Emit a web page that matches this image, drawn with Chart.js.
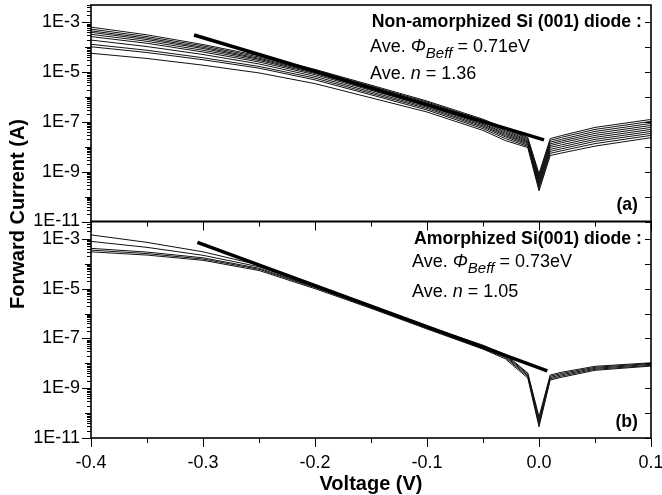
<!DOCTYPE html>
<html>
<head>
<meta charset="utf-8">
<title>Forward I-V of Si (001) diodes</title>
<script src="https://cdn.jsdelivr.net/npm/chart.js"></script>
<style>
    body { margin: 0; background: #fff; }
    #wrap { position: relative; width: 662px; height: 495px; font-family: "Liberation Sans", Arial, sans-serif; color: #000; }
    #wrap canvas { position: absolute; left: 0; top: 0; }
    .note { position: absolute; white-space: nowrap; font-size: 18px; line-height: 18px; }
    .bold { font-weight: bold; font-size: 17.7px; }
    .sub { position: relative; top: 6px; font-size: 15px; font-style: italic; }
    .title { position: absolute; white-space: nowrap; font-weight: bold; font-size: 20px; line-height: 20px; transform: translate(-50%, -50%); }
</style>
<script>
    // voltage points of every measured curve (V)
    var voltage = [-0.4, -0.35, -0.3, -0.25, -0.2, -0.15, -0.1, -0.05, -0.03, -0.01, 0, 0.01, 0.02, 0.05, 0.1];

    // (a) non-amorphized Si (001) diodes, forward current (A)
    var nonAmorphized = [
        [6.46e-4, 3.16e-4, 1.29e-4, 4.57e-5, 1.29e-5, 3.02e-6, 6.92e-7, 1.29e-7, 5.50e-8, 2.34e-8, 8.32e-10, 2.14e-8, 2.82e-8, 6.03e-8, 1.26e-7],
        [5.37e-4, 2.69e-4, 1.14e-4, 4.07e-5, 1.17e-5, 2.75e-6, 6.31e-7, 1.17e-7, 5.01e-8, 2.14e-8, 7.08e-10, 1.82e-8, 2.40e-8, 5.01e-8, 1.05e-7],
        [4.57e-4, 2.34e-4, 1.00e-4, 3.63e-5, 1.07e-5, 2.51e-6, 5.75e-7, 1.07e-7, 4.47e-8, 1.91e-8, 6.03e-10, 1.55e-8, 2.00e-8, 4.17e-8, 8.71e-8],
        [3.98e-4, 2.04e-4, 8.91e-5, 3.31e-5, 9.77e-6, 2.29e-6, 5.25e-7, 9.55e-8, 3.98e-8, 1.74e-8, 5.01e-10, 1.32e-8, 1.70e-8, 3.47e-8, 7.24e-8],
        [3.31e-4, 1.74e-4, 7.59e-5, 2.95e-5, 8.91e-6, 2.04e-6, 4.79e-7, 8.51e-8, 3.55e-8, 1.58e-8, 4.17e-10, 1.12e-8, 1.45e-8, 2.88e-8, 6.03e-8],
        [2.69e-4, 1.45e-4, 6.46e-5, 2.57e-5, 7.94e-6, 1.86e-6, 4.37e-7, 7.76e-8, 3.16e-8, 1.45e-8, 3.55e-10, 9.55e-9, 1.20e-8, 2.40e-8, 5.01e-8],
        [1.95e-4, 1.07e-4, 5.13e-5, 2.14e-5, 6.76e-6, 1.62e-6, 3.89e-7, 6.92e-8, 2.82e-8, 1.32e-8, 3.02e-10, 7.94e-9, 1.00e-8, 2.00e-8, 4.17e-8],
        [1.32e-4, 7.59e-5, 3.80e-5, 1.70e-5, 5.75e-6, 1.41e-6, 3.47e-7, 6.17e-8, 2.51e-8, 1.17e-8, 2.51e-10, 6.61e-9, 8.32e-9, 1.66e-8, 3.47e-8],
        [1.05e-4, 6.17e-5, 3.16e-5, 1.45e-5, 4.90e-6, 1.23e-6, 3.02e-7, 5.37e-8, 2.14e-8, 1.05e-8, 2.09e-10, 5.50e-9, 6.92e-9, 1.35e-8, 2.88e-8],
        [5.75e-5, 3.55e-5, 1.91e-5, 9.33e-6, 3.47e-6, 9.33e-7, 2.51e-7, 4.57e-8, 1.78e-8, 9.33e-9, 1.70e-10, 4.47e-9, 5.62e-9, 1.07e-8, 2.34e-8]
    ];

    // (b) amorphized Si(001) diodes, forward current (A)
    var amorphized = [
        [1.45e-3, 7.24e-4, 3.02e-4, 8.91e-5, 1.32e-5, 2.09e-6, 3.16e-7, 5.37e-8, 2.29e-8, 4.07e-9, 7.08e-11, 3.39e-9, 4.37e-9, 7.59e-9, 1.05e-8],
        [7.94e-4, 4.57e-4, 2.19e-4, 7.59e-5, 1.26e-5, 1.95e-6, 2.95e-7, 4.90e-8, 2.09e-8, 3.72e-9, 5.62e-11, 3.02e-9, 3.89e-9, 6.92e-9, 9.77e-9],
        [4.17e-4, 2.95e-4, 1.74e-4, 6.61e-5, 1.17e-5, 1.82e-6, 2.75e-7, 4.47e-8, 1.91e-8, 3.31e-9, 4.47e-11, 2.69e-9, 3.47e-9, 6.31e-9, 9.12e-9],
        [3.55e-4, 2.57e-4, 1.55e-4, 6.03e-5, 1.10e-5, 1.74e-6, 2.57e-7, 4.07e-8, 1.70e-8, 2.95e-9, 3.55e-11, 2.40e-9, 3.09e-9, 5.75e-9, 8.32e-9],
        [3.02e-4, 2.24e-4, 1.38e-4, 5.37e-5, 1.00e-5, 1.62e-6, 2.40e-7, 3.72e-8, 1.51e-8, 2.57e-9, 2.82e-11, 2.14e-9, 2.75e-9, 5.25e-9, 7.76e-9]
    ];

    // straight fits used for barrier height / ideality
    var fitVoltageA = [-0.308, 0.0045];
    var fitCurrentA = [3.13e-4, 1.91e-8];
    var fitVoltageB = [-0.305, 0.0074];
    var fitCurrentB = [7.24e-4, 5.01e-9];

    // tick labels
    var xTickValues = [-0.4, -0.3, -0.2, -0.1, 0, 0.1];
    var xTickLabels = ['-0.4', '-0.3', '-0.2', '-0.1', '0.0', '0.1'];
    var yTickValues = [1e-11, 1e-9, 1e-7, 1e-5, 1e-3];
    var yTickLabels = ['1E-11', '1E-9', '1E-7', '1E-5', '1E-3'];
    var yMin = 1e-11, yMax = 5e-3;

    function curveSets(rows, axis) {
        return rows.map(function (r) {
            return {
                data: voltage.map(function (v, i) { return {x: v, y: r[i]}; }),
                yAxisID: axis, borderColor: '#111', borderWidth: 1,
                pointRadius: 0, tension: 0, order: 1
            };
        });
    }

    function fitSet(vs, cs, axis) {
        return {
            data: vs.map(function (v, i) { return {x: v, y: cs[i]}; }),
            yAxisID: axis, borderColor: '#000', borderWidth: 3.5,
            pointRadius: 0, tension: 0, order: 0
        };
    }

    // panel frames and all the tick marks
    var frame = {
        id: 'frame',
        afterDatasetsDraw: function (chart) {
            var ctx = chart.ctx, x = chart.scales.x;
            var left = chart.chartArea.left, right = chart.chartArea.right;
            ctx.save();
            ctx.strokeStyle = '#000';
            ['yTop', 'yBot'].forEach(function (id) {
                var s = chart.scales[id];
                ctx.lineWidth = 1;
                ctx.beginPath();
                for (var e = -11; e <= -3; e++) {
                    for (var m = 1; m <= 9; m++) {
                        var v = m * Math.pow(10, e);
                        if (v < s.min * 0.999 || v > s.max * 1.001) continue;
                        var py = Math.round(s.getPixelForValue(v)) + 0.5;
                        var len = m > 1 ? 4 : (e % 2 ? 9 : 6);
                        ctx.moveTo(left - len, py); ctx.lineTo(left, py);
                        if (m === 1) { ctx.moveTo(right, py); ctx.lineTo(right - 6, py); }
                    }
                }
                for (var k = 0; k <= 10; k++) {
                    var px = Math.round(x.getPixelForValue(-0.4 + k * 0.05)) + 0.5;
                    ctx.moveTo(px, s.bottom); ctx.lineTo(px, s.bottom + (k % 2 ? 5 : 9));
                }
                ctx.stroke();
                ctx.lineWidth = 1.6;
                ctx.strokeRect(left, s.top, right - left, s.bottom - s.top);
            });
            ctx.restore();
        }
    };

    function yAxis() {
        return {
            type: 'logarithmic', position: 'left', stack: 'panels', stackWeight: 1,
            min: yMin, max: yMax,
            grid: {display: false, drawTicks: true, tickLength: 9},
            border: {display: false},
            afterBuildTicks: function (s) { s.ticks = yTickValues.map(function (v) { return {value: v}; }); },
            afterFit: function (s) { s.width = 91; s.paddingTop = 0; s.paddingBottom = 0; },
            ticks: {
                autoSkip: false, padding: 2, color: '#000',
                font: {family: 'Liberation Sans', size: 18},
                callback: function (v, i) { return yTickLabels[i]; }
            }
        };
    }

    window.onload = function () {
        var ctx = document.getElementById('ivChart').getContext('2d');
        new Chart(ctx, {
            type: 'line',
            data: {
                datasets: curveSets(nonAmorphized, 'yTop')
                    .concat(curveSets(amorphized, 'yBot'))
                    .concat([fitSet(fitVoltageA, fitCurrentA, 'yTop'), fitSet(fitVoltageB, fitCurrentB, 'yBot')])
            },
            options: {
                responsive: false,
                animation: false,
                layout: {padding: {left: 0, top: 5, right: 11, bottom: 0}},
                plugins: {legend: {display: false}, tooltip: {enabled: false}},
                scales: {
                    x: {
                        type: 'linear', min: -0.4, max: 0.1,
                        grid: {display: false, drawTicks: true, tickLength: 9},
                        border: {display: false},
                        afterBuildTicks: function (s) { s.ticks = xTickValues.map(function (v) { return {value: v}; }); },
                        afterFit: function (s) { s.height = 57; s.paddingLeft = 0; s.paddingRight = 0; },
                        ticks: {
                            autoSkip: false, maxRotation: 0, padding: 5, color: '#000',
                            font: {family: 'Liberation Sans', size: 18},
                            callback: function (v, i) { return xTickLabels[i]; }
                        }
                    },
                    // stacked axes are placed bottom-up in listing order
                    yBot: yAxis(),
                    yTop: yAxis()
                }
            },
            plugins: [frame]
        });
    };
</script>
</head>
<body>
<div id="wrap">
    <canvas id="ivChart" width="662" height="495"></canvas>
    <div class="note bold" style="right:20px; top:12px;">Non-amorphized Si (001) diode :</div>
    <div class="note" style="left:370px; top:37px;">Ave. <i>Φ</i><span class="sub">Beff</span> = 0.71eV</div>
    <div class="note" style="left:370px; top:64px;">Ave. <i>n</i> = 1.36</div>
    <div class="note bold" style="right:24px; top:195px;">(a)</div>
    <div class="note bold" style="right:20px; top:229px;">Amorphized Si(001) diode :</div>
    <div class="note" style="left:412px; top:252px;">Ave. <i>Φ</i><span class="sub">Beff</span> = 0.73eV</div>
    <div class="note" style="left:412px; top:282px;">Ave. <i>n</i> = 1.05</div>
    <div class="note bold" style="right:24px; top:412px;">(b)</div>
    <div class="title" style="left:17px; top:214px; transform: translate(-50%, -50%) rotate(-90deg);">Forward Current (A)</div>
    <div class="title" style="left:371px; top:483px;">Voltage (V)</div>
</div>
</body>
</html>
